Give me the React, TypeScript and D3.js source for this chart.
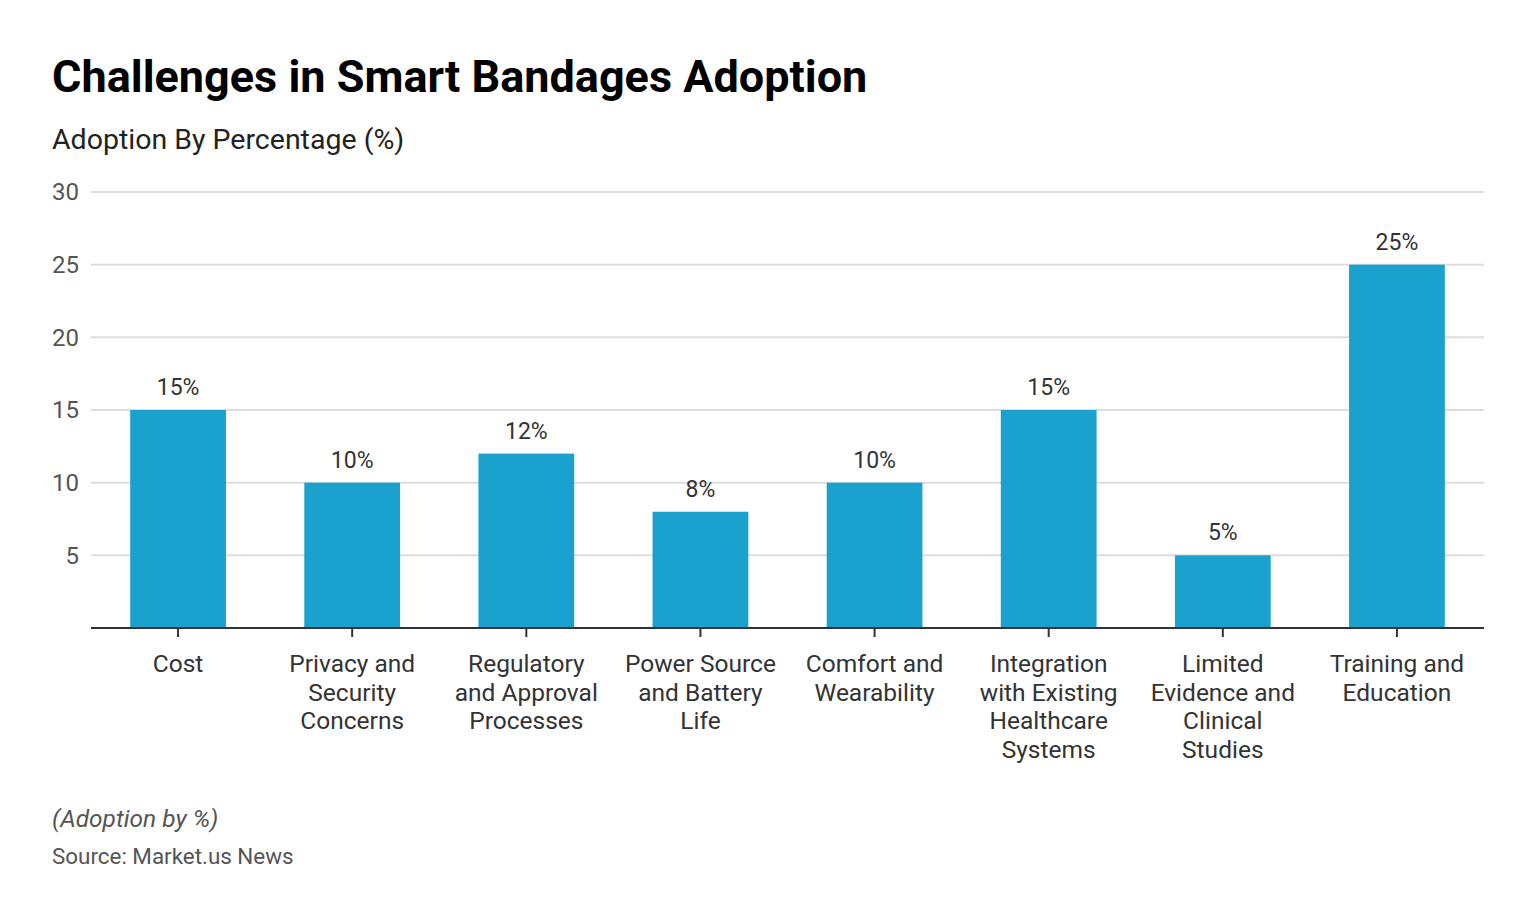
import React from "react";
import * as d3 from "d3";

const categories: string[][] = [
  ["Cost"],
  ["Privacy and", "Security", "Concerns"],
  ["Regulatory", "and Approval", "Processes"],
  ["Power Source", "and Battery", "Life"],
  ["Comfort and", "Wearability"],
  ["Integration", "with Existing", "Healthcare", "Systems"],
  ["Limited", "Evidence and", "Clinical", "Studies"],
  ["Training and", "Education"],
];
const values: number[] = [15, 10, 12, 8, 10, 15, 5, 25];
const yTicks: number[] = [5, 10, 15, 20, 25, 30];

const W = 1536;
const H = 922;
const left = 91;
const right = 1484;
const top = 192;
const bottom = 628;
const FONT = "Roboto, 'Noto Sans', sans-serif";

export default function App() {
  const x = d3
    .scaleBand<number>()
    .domain(values.map((_, i) => i))
    .range([left, right])
    .paddingInner(0.45)
    .paddingOuter(0.225);
  const y = d3.scaleLinear().domain([0, 30]).range([bottom, top]);

  return (
    <svg
      width={W}
      height={H}
      style={{ position: "absolute", left: 0, top: 0, background: "#fff" }}
      fontFamily={FONT}
    >
      <text x={52} y={92} fontSize={45} fontWeight={700} fill="#000">
        Challenges in Smart Bandages Adoption
      </text>
      <text x={52} y={149} fontSize={28.5} fill="#222">
        Adoption By Percentage (%)
      </text>

      {yTicks.map((t) => (
        <g key={t}>
          <line x1={left} x2={right} y1={y(t)} y2={y(t)} stroke="#dddddd" strokeWidth={2} />
          <text x={79} y={y(t)} dy="0.35em" textAnchor="end" fontSize={24} fill="#555">
            {t}
          </text>
        </g>
      ))}

      {values.map((v, i) => {
        const bx = x(i)!;
        const cx = bx + x.bandwidth() / 2;
        return (
          <g key={i}>
            <rect x={bx} y={y(v)} width={x.bandwidth()} height={y(0) - y(v)} fill="#1aa1cd" />
            <text x={cx} y={y(v) - 15} textAnchor="middle" fontSize={23} fill="#333">
              {v}%
            </text>
            <line x1={cx} x2={cx} y1={bottom} y2={bottom + 9} stroke="#333" strokeWidth={2} />
            <text textAnchor="middle" fontSize={24.5} fill="#333">
              {categories[i].map((line, j) => (
                <tspan key={j} x={cx} y={672 + j * 28.7}>
                  {line}
                </tspan>
              ))}
            </text>
          </g>
        );
      })}

      <line x1={left} x2={right} y1={bottom} y2={bottom} stroke="#333" strokeWidth={2} />

      <text x={52} y={827} fontSize={24.5} fontStyle="italic" fill="#555">
        (Adoption by %)
      </text>
      <text x={52} y={864} fontSize={22.4} fill="#555">
        Source: Market.us News
      </text>
    </svg>
  );
}
